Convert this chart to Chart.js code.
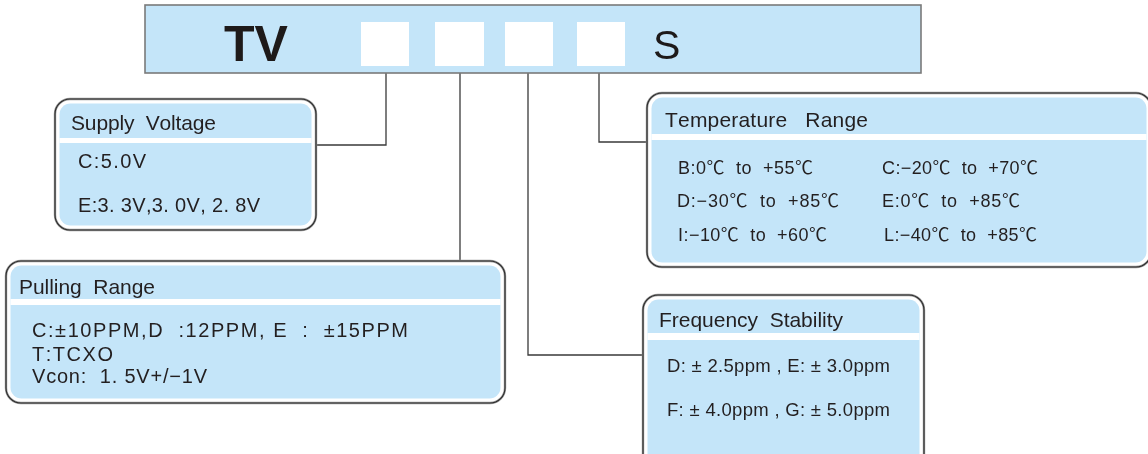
<!DOCTYPE html>
<html>
<head>
<meta charset="utf-8">
<script src="https://cdn.jsdelivr.net/npm/chart.js@4.4.1/dist/chart.umd.min.js"></script>
<style>
  html, body { margin: 0; padding: 0; background: #ffffff; }
  #wrap { width: 1148px; height: 454px; }
</style>
</head>
<body>
<div id="wrap"><canvas id="c" width="1148" height="454"></canvas></div>
<script>
// ---- content (text data) ----
const partPrefix = 'TV';
const partSlots = ['', '', '', ''];
const partSuffix = 'S';

const supplyTitle = 'Supply  Voltage';
const supplyItems = ['C:5.0V', 'E:3. 3V,3. 0V, 2. 8V'];

const pullingTitle = 'Pulling  Range';
const pullingItems = ['C:\u00B110PPM,D  :12PPM, E  :  \u00B115PPM', 'T:TCXO', 'Vcon:  1. 5V+/\u22121V'];

const tempTitle = 'Temperature   Range';
const tempItems = [
  'B:0\u2103  to  +55\u2103', 'C:\u221220\u2103  to  +70\u2103',
  'D:\u221230\u2103  to  +85\u2103', 'E:0\u2103  to  +85\u2103',
  'I:\u221210\u2103  to  +60\u2103', 'L:\u221240\u2103  to  +85\u2103'
];

const freqTitle = 'Frequency  Stability';
const freqItems = ['D: \u00B1 2.5ppm , E: \u00B1 3.0ppm', 'F: \u00B1 4.0ppm , G: \u00B1 5.0ppm'];

// ---- layout (positions in diagram units, mapped through the chart scales) ----
const FONT = '"Liberation Sans", Arial, "Noto Sans CJK SC", sans-serif';
const BLUE = '#c4e5f9';
const INK = '#231f20';

// text entries: [x, baseline, fontSize, rightEdge]
const layout = {
  top: { x0: 145, y0: 5, x1: 921, y1: 73,
         slots: [[361, 409], [435, 484], [505, 553], [577, 625]], slotY: [22, 66],
         prefix: [224, 61, 50, 285], suffix: [653, 59, 41, 679] },
  boxes: [
    { x0: 55, y0: 99, x1: 316, y1: 230, hdr: 138, gap: 5, title: [71, 130, 21, 216],
      lines: [[78, 168, 20, 146], [78, 212, 20, 260]], src: 'supply' },
    { x0: 6, y0: 261, x1: 505, y1: 403, hdr: 299, gap: 6, title: [19, 294, 21, 155],
      lines: [[32, 337, 20, 408], [32, 361, 20, 113], [32, 383, 20, 207]], src: 'pulling' },
    { x0: 647, y0: 93, x1: 1151, y1: 267, hdr: 134, gap: 6, title: [665, 127, 21, 868],
      lines: [[678, 174, 18, 813], [882, 174, 18, 1038], [677, 207, 18, 839], [882, 207, 18, 1020],
              [678, 241, 18, 827], [884, 241, 18, 1037]], src: 'temp' },
    { x0: 643, y0: 295, x1: 924, y1: 470, hdr: 333, gap: 7, title: [659, 327, 21, 843],
      lines: [[667, 372, 18.5, 890], [667, 416, 18.5, 890]], src: 'freq' }
  ],
  connectors: [
    [[386, 73], [386, 145], [316, 145]],
    [[460, 73], [460, 261]],
    [[528, 73], [528, 355], [643, 355]],
    [[599, 73], [599, 142], [647, 142]]
  ]
};

const sources = {
  supply: [supplyTitle, supplyItems],
  pulling: [pullingTitle, pullingItems],
  temp: [tempTitle, tempItems],
  freq: [freqTitle, freqItems]
};

function rr(ctx, x0, y0, x1, y1, r) {
  ctx.beginPath();
  ctx.moveTo(x0 + r, y0);
  ctx.lineTo(x1 - r, y0);
  ctx.arcTo(x1, y0, x1, y0 + r, r);
  ctx.lineTo(x1, y1 - r);
  ctx.arcTo(x1, y1, x1 - r, y1, r);
  ctx.lineTo(x0 + r, y1);
  ctx.arcTo(x0, y1, x0, y1 - r, r);
  ctx.lineTo(x0, y0 + r);
  ctx.arcTo(x0, y0, x0 + r, y0, r);
  ctx.closePath();
}

// draw text starting at x so that it ends at xEnd by spreading the letters
function fitText(ctx, text, x, y, xEnd) {
  const chars = Array.from(text);
  const widths = chars.map(ch => ctx.measureText(ch).width);
  const total = widths.reduce((a, b) => a + b, 0);
  let extra = 0;
  if (xEnd != null && chars.length > 1) extra = (xEnd - x - total) / (chars.length - 1);
  let cx = x;
  chars.forEach((ch, i) => {
    ctx.fillText(ch, cx, y);
    cx += widths[i] + extra;
  });
}

const diagramPlugin = {
  id: 'diagram',
  afterDraw(chart) {
    const ctx = chart.ctx;
    const sx = v => chart.scales.x.getPixelForValue(v);
    const sy = v => chart.scales.y.getPixelForValue(v);
    ctx.save();
    ctx.textBaseline = 'alphabetic';
    ctx.textAlign = 'left';

    // connectors
    ctx.strokeStyle = '#3a3a3a';
    ctx.lineWidth = 1.3;
    layout.connectors.forEach(pts => {
      ctx.beginPath();
      pts.forEach((p, i) => i ? ctx.lineTo(sx(p[0]), sy(p[1])) : ctx.moveTo(sx(p[0]), sy(p[1])));
      ctx.stroke();
    });

    // top code bar
    const t = layout.top;
    ctx.fillStyle = BLUE;
    ctx.fillRect(sx(t.x0), sy(t.y0), sx(t.x1) - sx(t.x0), sy(t.y1) - sy(t.y0));
    ctx.strokeStyle = '#7a7a7a';
    ctx.lineWidth = 1.6;
    ctx.strokeRect(sx(t.x0), sy(t.y0), sx(t.x1) - sx(t.x0), sy(t.y1) - sy(t.y0));
    ctx.fillStyle = '#ffffff';
    t.slots.forEach((s, i) => {
      ctx.fillRect(sx(s[0]), sy(t.slotY[0]), sx(s[1]) - sx(s[0]), sy(t.slotY[1]) - sy(t.slotY[0]));
      if (partSlots[i]) {
        ctx.fillStyle = INK;
        ctx.fillText(partSlots[i], sx(s[0]) + 10, sy(t.slotY[1]) - 8);
        ctx.fillStyle = '#ffffff';
      }
    });
    ctx.fillStyle = '#1e1a1a';
    ctx.font = 'bold ' + t.prefix[2] + 'px ' + FONT;
    fitText(ctx, partPrefix, sx(t.prefix[0]), sy(t.prefix[1]), null);
    ctx.font = t.suffix[2] + 'px ' + FONT;
    ctx.fillText(partSuffix, sx(t.suffix[0]), sy(t.suffix[1]));

    // boxes
    layout.boxes.forEach(b => {
      const x0 = sx(b.x0), y0 = sy(b.y0), x1 = sx(b.x1), y1 = sy(b.y1);
      rr(ctx, x0, y0, x1, y1, 15);
      ctx.fillStyle = '#ffffff';
      ctx.fill();
      ctx.strokeStyle = '#9a9a9a';
      ctx.lineWidth = 2.4;
      ctx.stroke();
      ctx.strokeStyle = '#2a2a2a';
      ctx.lineWidth = 1.1;
      ctx.stroke();
      const ins = 4.5;
      ctx.save();
      rr(ctx, x0 + ins, y0 + ins, x1 - ins, y1 - ins, 11);
      ctx.clip();
      ctx.fillStyle = BLUE;
      ctx.fillRect(x0, y0, x1 - x0, y1 - y0);
      ctx.fillStyle = '#ffffff';
      ctx.fillRect(x0, sy(b.hdr), x1 - x0, b.gap);
      ctx.restore();
      const src = sources[b.src];
      ctx.fillStyle = INK;
      ctx.font = b.title[2] + 'px ' + FONT;
      fitText(ctx, src[0], sx(b.title[0]), sy(b.title[1]), sx(b.title[3]));
      b.lines.forEach((l, i) => {
        ctx.font = l[2] + 'px ' + FONT;
        fitText(ctx, src[1][i], sx(l[0]), sy(l[1]), sx(l[3]));
      });
    });
    ctx.restore();
  }
};

new Chart(document.getElementById('c'), {
  type: 'scatter',
  data: { datasets: [{ data: [], pointRadius: 0 }] },
  options: {
    responsive: false,
    animation: false,
    devicePixelRatio: 1,
    layout: { padding: 0 },
    plugins: { legend: { display: false }, tooltip: { enabled: false }, title: { display: false } },
    scales: {
      x: { type: 'linear', min: 0, max: 1148, display: false },
      y: { type: 'linear', min: 0, max: 454, reverse: true, display: false }
    }
  },
  plugins: [diagramPlugin]
});
</script>
</body>
</html>
